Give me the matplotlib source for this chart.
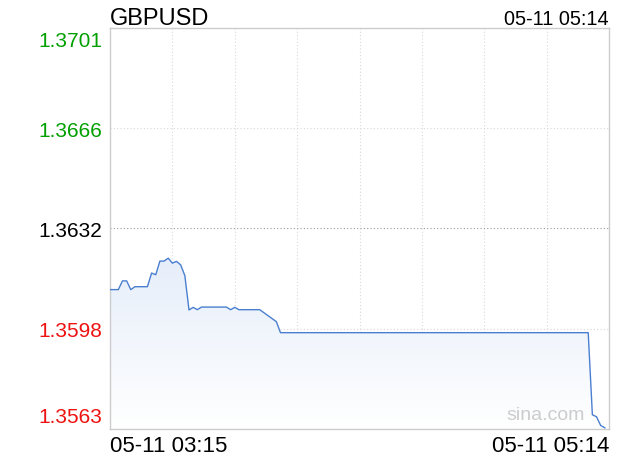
import numpy as np
import matplotlib.pyplot as plt
from matplotlib.colors import LinearSegmentedColormap

plt.rcParams['font.family'] = ['Liberation Sans', 'DejaVu Sans']

# minutes after 03:15 and GBPUSD price
minutes = [0, 2, 3, 4, 5, 6, 9, 10, 11, 12, 13, 14, 15, 16, 17, 18, 19, 20, 21,
           22, 28, 29, 30, 31, 36, 40, 41, 115, 116, 117, 118, 119]
prices = [1.36112, 1.36112, 1.36142, 1.36142, 1.36112, 1.36122, 1.36122, 1.36169,
          1.36163, 1.36210, 1.36210, 1.36220, 1.36203, 1.36209, 1.36197, 1.36160,
          1.36042, 1.36051, 1.36043, 1.36052, 1.36052, 1.36043, 1.36051, 1.36043,
          1.36043, 1.36002, 1.35964, 1.35964, 1.35682, 1.35675, 1.35645, 1.35637]

prev_close = 1.36322
half_range = 0.00689
tick_vals = [prev_close + half_range * k / 2 for k in (2, 1, 0, -1, -2)]
tick_labels = ["1.3701", "1.3666", "1.3632", "1.3598", "1.3563"]
tick_colors = ["#00a000", "#00a000", "#000000", "#ee1111", "#ee1111"]

W, H = 620, 460
fig = plt.figure(figsize=(6.2, 4.6), dpi=100)
ax = fig.add_axes([110 / W, 1 - 430 / H, 499 / W, 401 / H])
ymin, ymax = prev_close - half_range, prev_close + half_range
ax.set_xlim(0, 120)
ax.set_ylim(ymin, ymax)

# gradient fill under the line
cmap = LinearSegmentedColormap.from_list("fill", ["#ffffff", "#e6eefa"])
grad = np.linspace(0, 1, 256).reshape(-1, 1)
top = max(prices)
img = ax.imshow(grad, extent=[0, 120, ymin, top], origin="lower", cmap=cmap,
                aspect="auto", zorder=1)
poly = ax.fill_between(minutes, prices, ymin, color="none", zorder=1)
img.set_clip_path(poly.get_paths()[0], transform=ax.transData)

ax.plot(minutes, prices, color="#4a7fd0", lw=1.0, zorder=3)

# grid
for m in range(15, 120, 15):
    ax.axvline(m, color="#d8d8d8", lw=0.8, ls=(0, (1, 2)), zorder=0)
for v in tick_vals[1:-1]:
    c = "#999999" if abs(v - prev_close) < 1e-9 else "#d8d8d8"
    ax.axhline(v, color=c, lw=0.8, ls=(0, (1, 2)), zorder=0)

for s in ax.spines.values():
    s.set_color("#cccccc")
    s.set_linewidth(1)
ax.set_xticks([])
ax.set_yticks([])

# price labels: top and bottom sit inside the plot edges
label_base = [47.3, 136.8, 237.0, 337.3, 423.3]
for yb, lab, c in zip(label_base, tick_labels, tick_colors):
    fig.text(102 / W, 1 - yb / H, lab, color=c, fontsize=15, ha="right",
             va="baseline")

fig.text(110 / W, 1 - 25 / H, "GBPUSD", fontsize=17, ha="left", va="baseline")
fig.text(609 / W, 1 - 25 / H, "05-11 05:14", fontsize=14.3, ha="right", va="baseline")
fig.text(110 / W, 1 - 452 / H, "05-11 03:15", fontsize=16, ha="left", va="baseline")
fig.text(609 / W, 1 - 452 / H, "05-11 05:14", fontsize=16, ha="right", va="baseline")
ax.text(0.952, 0.025, "sina.com", color="#cccccc", fontsize=14, ha="right",
        va="baseline", transform=ax.transAxes)

plt.savefig("out.png", dpi=100)
